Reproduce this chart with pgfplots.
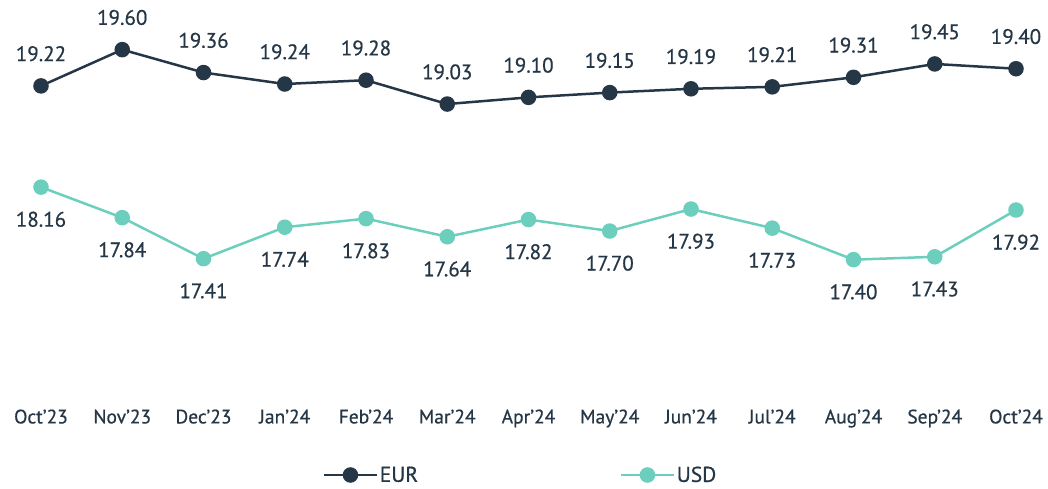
\documentclass[border=0pt]{standalone}
\usepackage{pgfplots}
\pgfplotsset{compat=1.18}
\usepackage{fontspec}
\setmainfont{PT Sans}[FakeBold=0.6]
\definecolor{eurc}{HTML}{253746}
\definecolor{usdc}{HTML}{6CCFBD}
\begin{document}
\begin{tikzpicture}
\useasboundingbox (-41bp,-89bp) rectangle (1007bp,400bp);
\begin{axis}[
  scale only axis,
  width=975bp, height=400bp,
  xmin=0, xmax=12, ymin=15.93, ymax=20.12,
  enlarge x limits=false,
  axis line style={draw=none},
  ytick=\empty,
  xtick={0,...,12},
  xticklabels={Oct'23,Nov'23,Dec'23,Jan'24,Feb'24,Mar'24,Apr'24,May'24,Jun'24,Jul'24,Aug'24,Sep'24,Oct'24},
  major tick length=0pt,
  xticklabel style={font=\fontsize{19.5bp}{22bp}\selectfont, text=eurc, yshift=-6bp},
  clip=false,
  nodes near coords,
  /pgf/number format/.cd, fixed, fixed zerofill, precision=2, assume math mode=true,
  /pgfplots/.cd,
  every node near coord/.append style={font=\fontsize{21bp}{24bp}\selectfont, text=eurc},
  legend columns=2,
  legend style={draw=none, at={(0.492,-0.1875)}, anchor=center, font=\fontsize{21.5bp}{24bp}\selectfont, text=eurc,
    /tikz/every even column/.append style={column sep=200bp}},
  legend image code/.code={\draw[mark repeat=2,mark phase=2] plot coordinates {(0cm,0cm)(0.92cm,0cm)(1.84cm,0cm)};},
]
\addplot[eurc, line width=2.5bp, mark=*, mark size=6.5bp, mark options={fill=eurc, draw=eurc},
  every node near coord/.append style={anchor=south, yshift=20bp}]
  coordinates {(0,19.22)(1,19.60)(2,19.36)(3,19.24)(4,19.28)(5,19.03)(6,19.10)(7,19.15)(8,19.19)(9,19.21)(10,19.31)(11,19.45)(12,19.40)};
\addlegendentry{EUR}
\addplot[usdc, line width=2.5bp, mark=*, mark size=6.5bp, mark options={fill=usdc, draw=usdc},
  every node near coord/.append style={anchor=north, yshift=-20bp}]
  coordinates {(0,18.16)(1,17.84)(2,17.41)(3,17.74)(4,17.83)(5,17.64)(6,17.82)(7,17.70)(8,17.93)(9,17.73)(10,17.40)(11,17.43)(12,17.92)};
\addlegendentry{USD}
\end{axis}
\end{tikzpicture}
\end{document}
